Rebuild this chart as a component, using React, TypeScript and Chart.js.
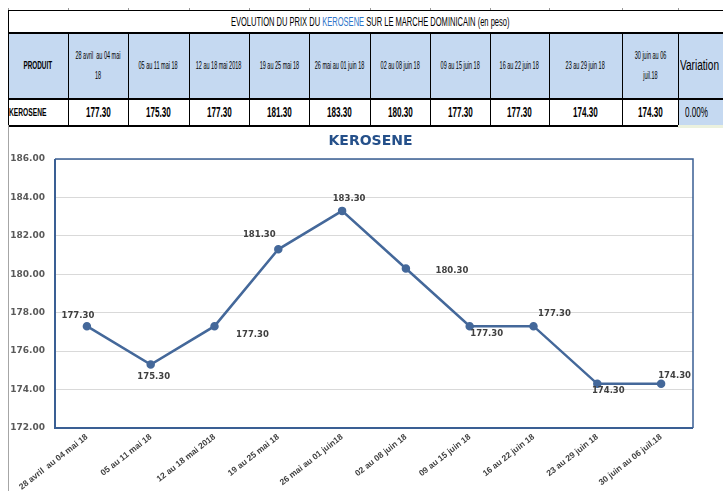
import React, { useEffect, useRef } from "react";
import { Chart, registerables } from "chart.js";

Chart.register(...registerables);

// ---------- data ----------
const chartTitle = "KEROSENE";
const tableTitleStart = "EVOLUTION DU PRIX DU ";
const tableTitleProduct = "KEROSENE";
const tableTitleEnd = " SUR LE MARCHE DOMINICAIN (en peso)";
const productHeader = "PRODUIT";
const productName = "KEROSENE";
const variationHeader = "Variation";
const variationValue = "0.00%";

const categories = [
  "28 avril  au 04 mai 18",
  "05 au 11 mai 18",
  "12 au 18 mai 2018",
  "19 au 25 mai 18",
  "26 mai au 01 juin18",
  "02 au 08 juin 18",
  "09 au 15 juin 18",
  "16 au 22 juin 18",
  "23 au 29 juin 18",
  "30 juin au 06 juil.18",
];

const headerLabels: string[][] = [
  ["28 avril  au 04 mai", "18"],
  ["05 au 11 mai 18"],
  ["12 au 18 mai 2018"],
  ["19 au 25 mai 18"],
  ["26 mai au 01 juin 18"],
  ["02 au 08 juin 18"],
  ["09 au 15 juin 18"],
  ["16 au 22 juin 18"],
  ["23 au 29 juin 18"],
  ["30 juin au 06", "juil.18"],
];

const prices = [177.3, 175.3, 177.3, 181.3, 183.3, 180.3, 177.3, 177.3, 174.3, 174.3];

const yMin = 172;
const yMax = 186;
const yStep = 2;

// ---------- styles ----------
const labelOffsets: [number, number][] = [
  [-9, -10.5],
  [3, 12],
  [38, 8.5],
  [-19, -14.5],
  [7, -12.5],
  [46, 2],
  [17, 7.5],
  [21, -12.5],
  [11, 7],
  [13.5, -8],
];

const colEdges = [0, 60, 120, 181, 241, 301, 362, 422, 482, 541, 614, 670, 715];
const rowEdges = [2, 24, 90, 117];
const headerBg = "#C5D9F1";
const tableFont = '"Liberation Sans", Arial, sans-serif';
const SX = 0.58;
const lineColor = "#44689A";
const frameColor = "#3A5F94";
const titleCenterX = 362.5;
const titleCenterY = 16.5;

function Txt(props: {
  children: React.ReactNode;
  size: number;
  bold?: boolean;
  sx?: number;
  color?: string;
  origin?: string;
  lh?: number;
}) {
  return (
    <span
      style={{
        display: "inline-block",
        whiteSpace: "pre",
        fontSize: props.size,
        fontWeight: props.bold ? "bold" : "normal",
        transform: `scaleX(${props.sx ?? SX})`,
        transformOrigin: props.origin ?? "center",
        color: props.color ?? "#000",
        lineHeight: props.lh ? `${props.lh}px` : "normal",
        textAlign: "center",
      }}
    >
      {props.children}
    </span>
  );
}

function Box(props: {
  x: number;
  y: number;
  w: number;
  h: number;
  bg?: string;
  align?: string;
  children?: React.ReactNode;
}) {
  return (
    <div
      style={{
        position: "absolute",
        left: props.x,
        top: props.y,
        width: props.w,
        height: props.h,
        background: props.bg ?? "transparent",
        display: "flex",
        alignItems: "center",
        justifyContent: props.align ?? "center",
        overflow: "visible",
      }}
    >
      {props.children}
    </div>
  );
}

function Line(props: { x: number; y: number; w: number; h: number; c?: string }) {
  return (
    <div
      style={{
        position: "absolute",
        left: props.x,
        top: props.y,
        width: props.w,
        height: props.h,
        background: props.c ?? "#000",
      }}
    />
  );
}

export default function App() {
  const canvasRef = useRef<HTMLCanvasElement | null>(null);

  useEffect(() => {
    document.body.style.margin = "8px 0 0 8px";
    const canvas = canvasRef.current;
    if (!canvas) return;

    const framePlugin = {
      id: "frame",
      beforeDatasetsDraw(chart: any) {
        const { ctx, chartArea: a } = chart;
        ctx.save();
        ctx.strokeStyle = frameColor;
        ctx.lineWidth = 1.5;
        ctx.beginPath();
        ctx.moveTo(a.left, a.top);
        ctx.lineTo(a.right, a.top);
        ctx.lineTo(a.right, a.bottom);
        ctx.stroke();
        ctx.lineWidth = 2;
        ctx.beginPath();
        ctx.moveTo(a.left, a.top);
        ctx.lineTo(a.left, a.bottom);
        ctx.lineTo(a.right, a.bottom);
        ctx.stroke();
        ctx.restore();
      },
    };

    const labelPlugin = {
      id: "valueLabels",
      afterDatasetsDraw(chart: any) {
        const { ctx } = chart;
        const meta = chart.getDatasetMeta(0);
        ctx.save();
        ctx.font = 'bold 8.5px "DejaVu Sans", sans-serif';
        ctx.fillStyle = "#404040";
        ctx.textAlign = "center";
        ctx.textBaseline = "middle";
        meta.data.forEach((pt: any, i: number) => {
          const [dx, dy] = labelOffsets[i];
          ctx.fillText(prices[i].toFixed(2), pt.x + dx, pt.y + dy);
        });
        ctx.font = 'bold 14px "DejaVu Sans", sans-serif';
        ctx.fillStyle = "#25508A";
        ctx.fillText(chartTitle, titleCenterX, titleCenterY);
        ctx.restore();
      },
    };

    const chart = new Chart(canvas, {
      type: "line",
      data: {
        labels: categories,
        datasets: [
          {
            data: prices,
            borderColor: lineColor,
            backgroundColor: lineColor,
            borderWidth: 2.5,
            pointRadius: 3,
            pointBackgroundColor: lineColor,
            pointBorderColor: lineColor,
            tension: 0,
            fill: false,
          },
        ],
      },
      options: {
        animation: false,
        responsive: false,
        maintainAspectRatio: false,
        devicePixelRatio: 1,
        layout: { padding: { left: 0, right: 30, top: 34, bottom: 0 } },
        plugins: {
          legend: { display: false },
          tooltip: { enabled: false },
          title: { display: false },
        },
        scales: {
          x: {
            offset: true,
            grid: { display: false, drawTicks: false },
            border: { display: false },
            ticks: {
              autoSkip: false,
              minRotation: 38,
              maxRotation: 38,
              padding: 4,
              color: "#404040",
              font: { family: '"Liberation Sans", Arial, sans-serif', size: 8.5, weight: "bold" },
            },
            afterFit: (s: any) => {
              s.height = 63;
            },
          },
          y: {
            min: yMin,
            max: yMax,
            ticks: {
              stepSize: yStep,
              padding: 10,
              color: "#595959",
              font: { family: '"DejaVu Sans", sans-serif', size: 9, weight: "bold" },
              callback: (v: any) => Number(v).toFixed(2),
            },
            grid: { color: "#D9D9D9", lineWidth: 1, drawTicks: false },
            border: { display: false },
            afterFit: (s: any) => {
              s.width = 47;
            },
          },
        },
      },
      plugins: [framePlugin, labelPlugin],
    } as any);

    return () => chart.destroy();
  }, []);

  const W = 715;
  const [r0, r1, r2, r3] = rowEdges;

  return (
    <div
      style={{
        position: "relative",
        width: W,
        height: 483,
        overflow: "hidden",
        fontFamily: tableFont,
      }}
    >
      {/* faint marks of the row above */}
      {colEdges.slice(0, 12).map((x, i) => (
        <Line key={"m" + i} x={x} y={-1} w={1} h={3} c="#9a9a9a" />
      ))}

      {/* backgrounds */}
      <Box x={0} y={r1} w={W} h={r2 - r1} bg={headerBg} />
      <Box x={colEdges[11]} y={r2} w={W - colEdges[11]} h={r3 - r2} bg={headerBg} />
      <Box x={colEdges[11]} y={r3} w={W - colEdges[11]} h={3} bg="#EBF1DE" />

      {/* title row */}
      <Box x={0} y={r0} w={725} h={r1 - r0}>
        <Txt size={13}>
          {tableTitleStart}
          <span style={{ color: "#2E75C9" }}>{tableTitleProduct}</span>
          {tableTitleEnd}
        </Txt>
      </Box>

      {/* header row */}
      <Box x={colEdges[0]} y={r1} w={colEdges[1] - colEdges[0]} h={r2 - r1}>
        <Txt size={11} bold>
          {productHeader}
        </Txt>
      </Box>
      {headerLabels.map((lines, i) => (
        <Box key={"h" + i} x={colEdges[i + 1]} y={r1} w={colEdges[i + 2] - colEdges[i + 1]} h={r2 - r1}>
          <Txt size={11} sx={0.5} lh={20}>
            {lines.join("\n")}
          </Txt>
        </Box>
      ))}
      <Box x={colEdges[11]} y={r1} w={colEdges[12] - colEdges[11]} h={r2 - r1} align="flex-start">
        <div style={{ paddingLeft: 2 }}>
          <Txt size={14} sx={0.72} origin="left">
            {variationHeader}
          </Txt>
        </div>
      </Box>

      {/* data row */}
      <Box x={1} y={r2} w={colEdges[1] - 1} h={r3 - r2} align="flex-start">
        <Txt size={11.5} bold origin="left">
          {productName}
        </Txt>
      </Box>
      {prices.map((p, i) => (
        <Box key={"v" + i} x={colEdges[i + 1]} y={r2} w={colEdges[i + 2] - colEdges[i + 1]} h={r3 - r2}>
          <Txt size={14} bold>
            {p.toFixed(2)}
          </Txt>
        </Box>
      ))}
      <Box x={colEdges[11]} y={r2} w={colEdges[12] - colEdges[11]} h={r3 - r2} align="flex-start">
        <div style={{ paddingLeft: 7 }}>
          <Txt size={14} origin="left">
            {variationValue}
          </Txt>
        </div>
      </Box>

      {/* table lines */}
      <Line x={0} y={r0} w={W} h={1} />
      <Line x={0} y={r1} w={W} h={2} />
      <Line x={0} y={r2} w={W} h={2} />
      <Line x={0} y={r3} w={colEdges[11]} h={1.5} />
      <Line x={0} y={r0} w={1} h={r3 - r0} />
      {colEdges.slice(1, 12).map((x, i) => (
        <Line key={"c" + i} x={x} y={r1} w={1} h={r3 - r1} />
      ))}

      {/* chart frame left edge */}
      <Line x={0} y={r3} w={1} h={366} c="#A6A6A6" />

      <div style={{ position: "absolute", left: 0, top: r3, width: W, height: 366 }}>
        <canvas ref={canvasRef} width={W} height={366} style={{ display: "block", width: W, height: 366 }} />
      </div>
    </div>
  );
}
